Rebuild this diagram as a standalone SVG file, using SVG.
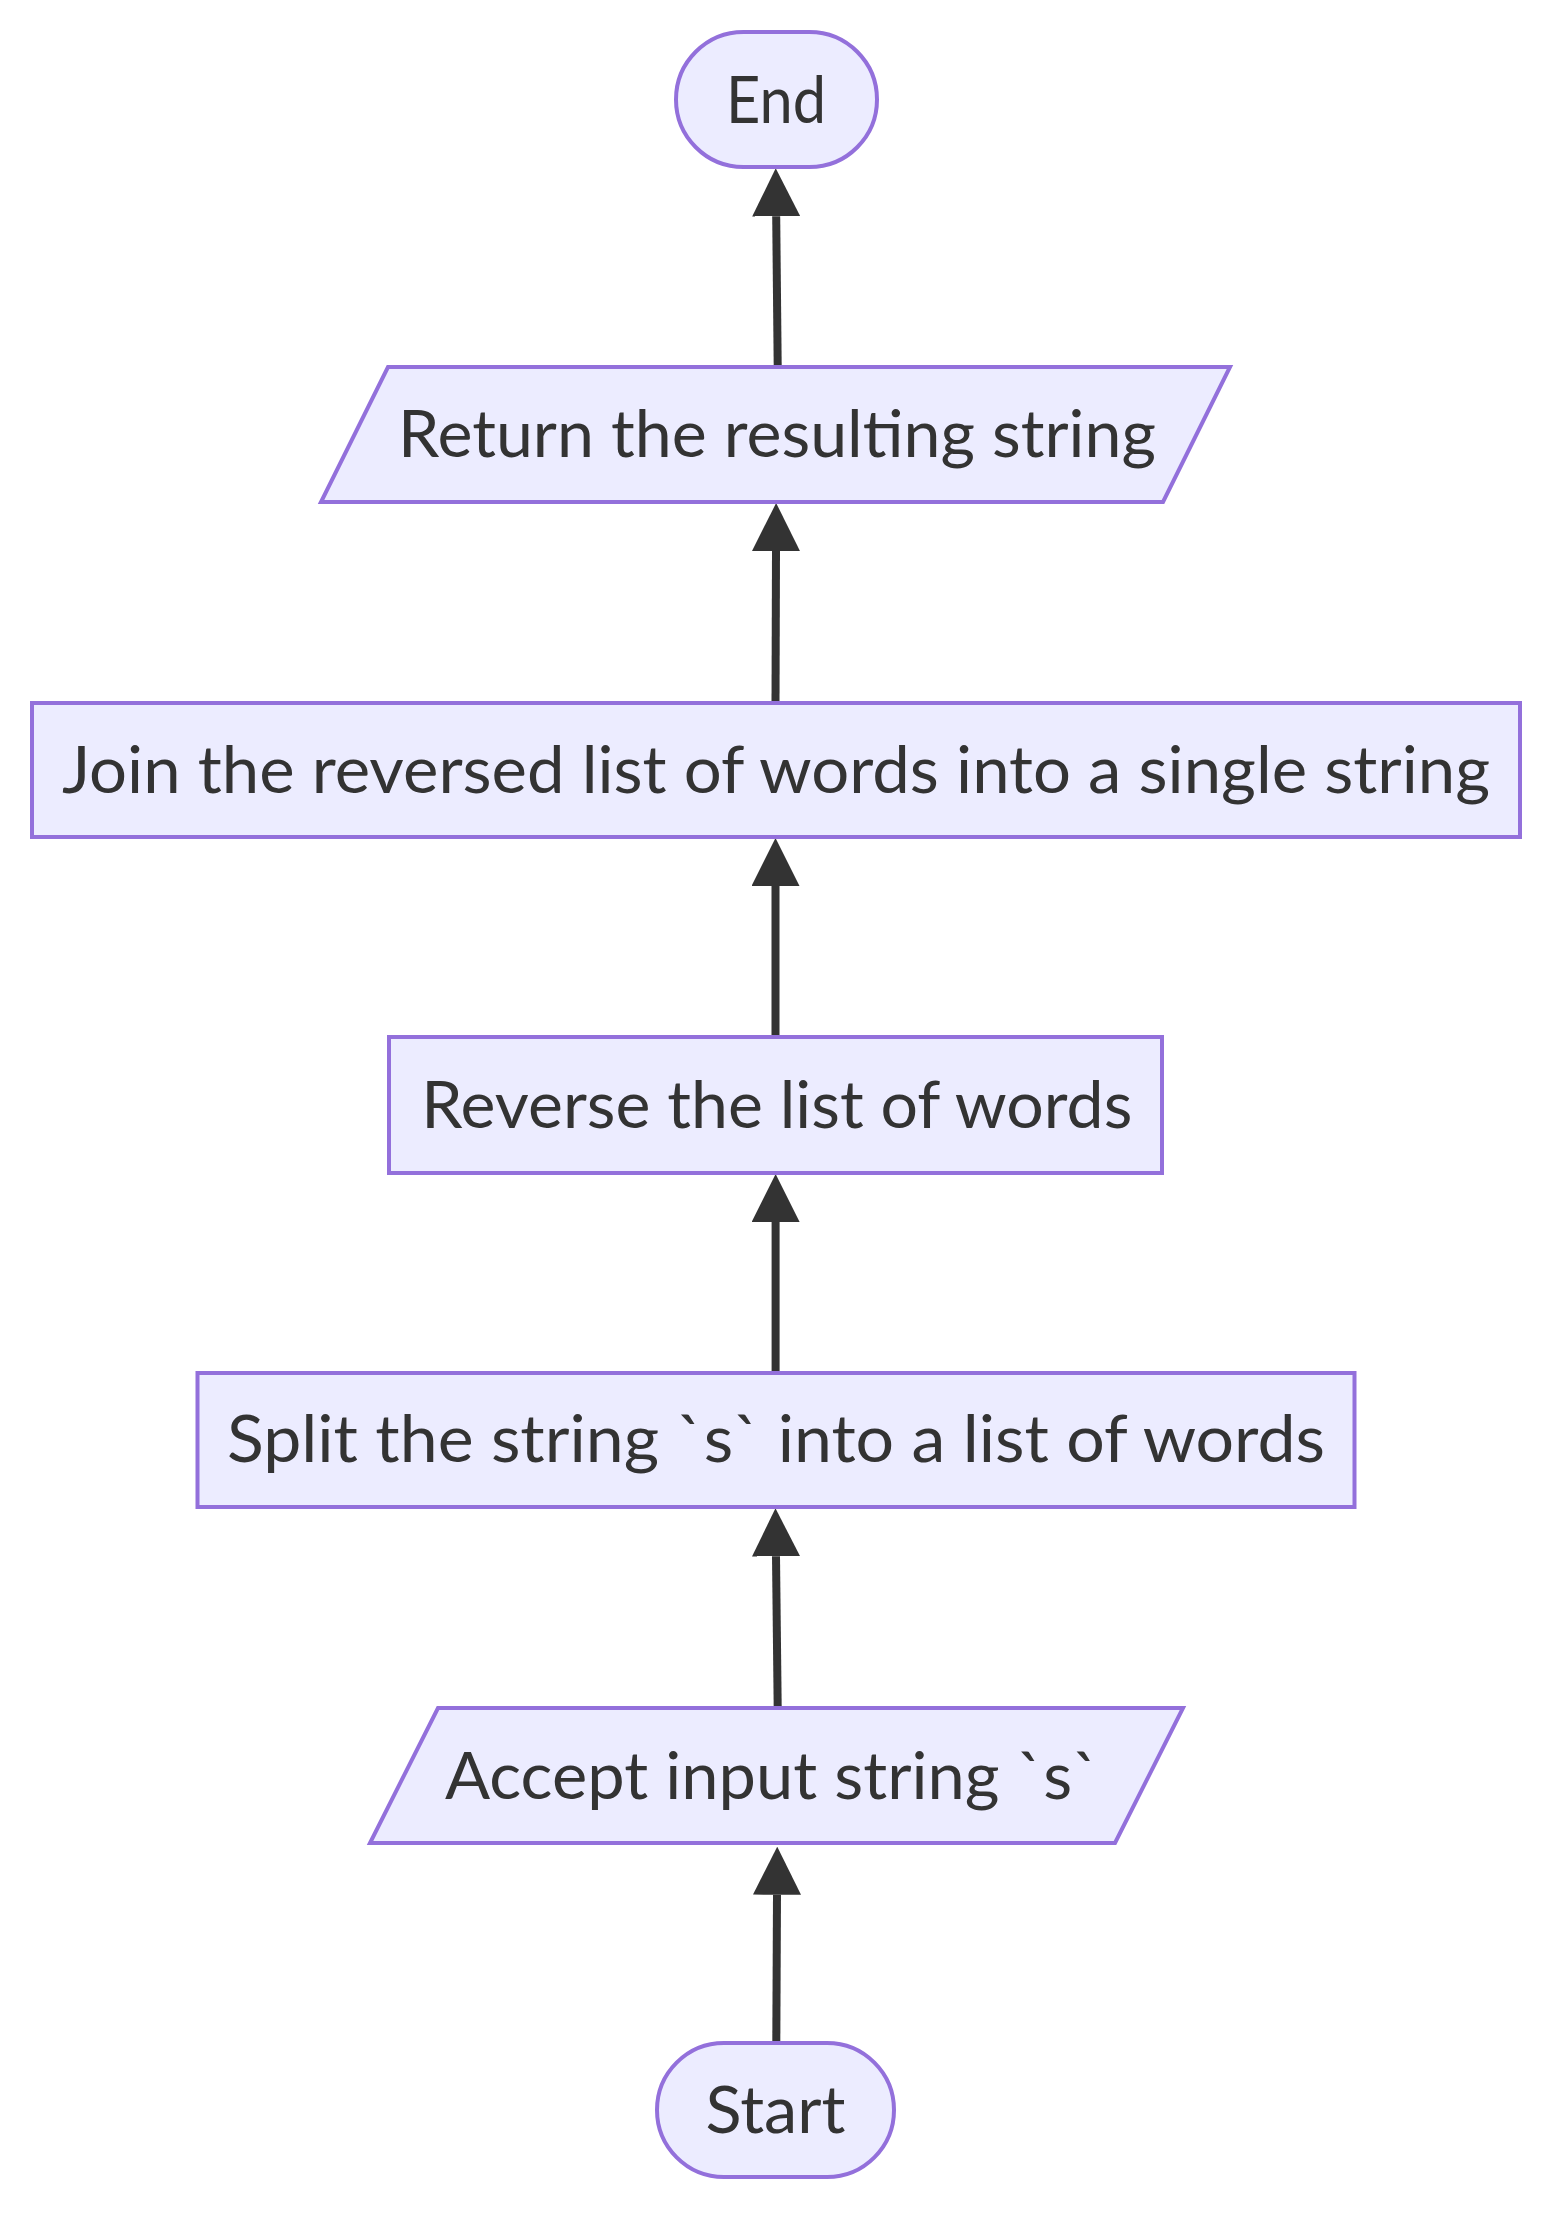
<svg xmlns="http://www.w3.org/2000/svg" width="1568" height="2234" viewBox="0 0 1568 2234">
<defs>
<marker id="arrow" markerUnits="userSpaceOnUse" markerWidth="48" markerHeight="48" viewBox="0 0 48 48" refX="0" refY="24" orient="auto">
<path d="M0,0 L48,24 L0,48 z" fill="#333333"/>
</marker>
<style>
.node{fill:#ECECFF;stroke:#9370DB;stroke-width:4;}
.label{font-family:Lato,"Liberation Sans",sans-serif;font-size:66px;fill:#333333;text-anchor:middle;}
.edge{fill:none;stroke:#333333;stroke-width:8;marker-end:url(#arrow);}
</style>
</defs>
<rect width="1568" height="2234" fill="#ffffff"/>
<g id="connectors">
<path class="edge" d="M776.3,2043 L777,1894.7"/>
<path class="edge" d="M777.7,1708 L776,1556.3"/>
<path class="edge" d="M775.6,1373 L775.6,1222"/>
<path class="edge" d="M775.5,1037 L775.5,886"/>
<path class="edge" d="M775.5,703 L776,551"/>
<path class="edge" d="M777.7,367 L776.2,216.3"/>
</g>
<g id="node-end">
<rect class="node" x="676" y="32" width="201" height="135" rx="67.5" ry="67.5"/>
<text class="label" x="776" y="122.7" textLength="100" lengthAdjust="spacingAndGlyphs">End</text>
</g>
<g id="node-return">
<polygon class="node" points="388,367 1230,367 1163,502 321,502"/>
<text class="label" x="777" y="457.3" textLength="758" lengthAdjust="spacingAndGlyphs">Return the resulting string</text>
</g>
<g id="node-join">
<rect class="node" x="32" y="703" width="1488" height="134"/>
<text class="label" x="776" y="793.3" textLength="1428" lengthAdjust="spacingAndGlyphs">Join the reversed list of words into a single string</text>
</g>
<g id="node-reverse">
<rect class="node" x="389" y="1037" width="773" height="136"/>
<text class="label" x="776.8" y="1127.7" textLength="711" lengthAdjust="spacingAndGlyphs">Reverse the list of words</text>
</g>
<g id="node-split">
<rect class="node" x="197.5" y="1373" width="1157" height="134"/>
<text class="label" x="776" y="1461.7" textLength="1098" lengthAdjust="spacingAndGlyphs">Split the string `s` into a list of words</text>
</g>
<g id="node-accept">
<polygon class="node" points="438,1708 1183,1708 1115,1843 370,1843"/>
<text class="label" x="772" y="1799" textLength="654" lengthAdjust="spacingAndGlyphs">Accept input string `s`</text>
</g>
<g id="node-start">
<rect class="node" x="657" y="2043" width="237" height="134" rx="67" ry="67"/>
<text class="label" x="775.5" y="2133" textLength="140" lengthAdjust="spacingAndGlyphs">Start</text>
</g>
</svg>
